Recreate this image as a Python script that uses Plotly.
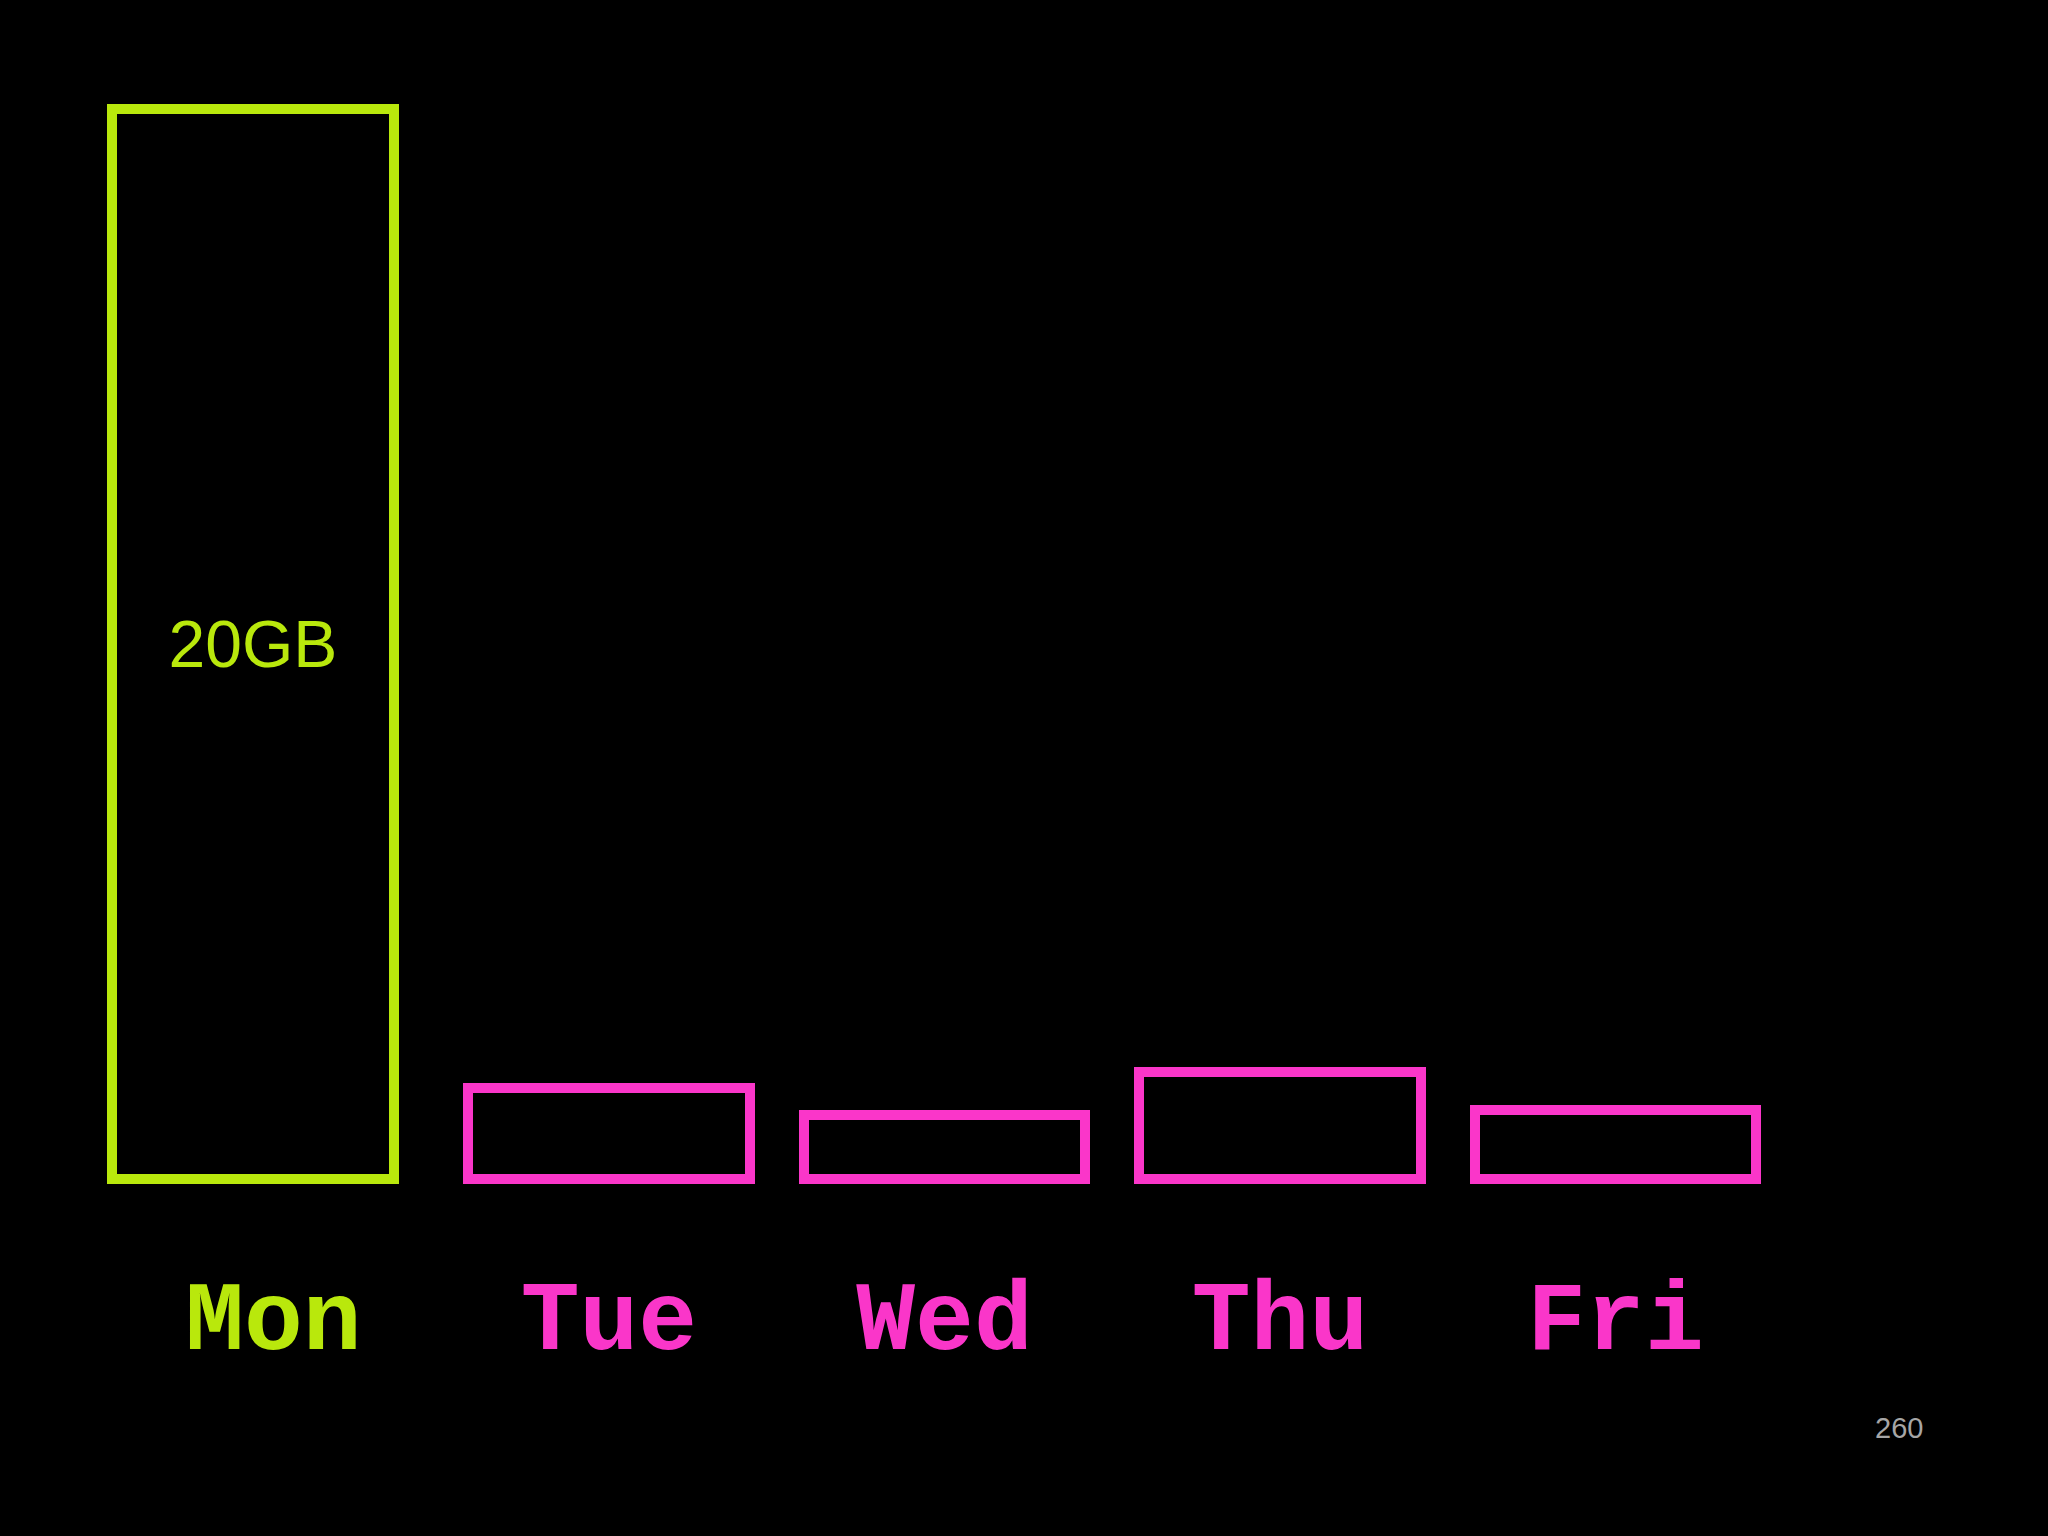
import plotly.graph_objects as go

days = ["Mon", "Tue", "Wed", "Thu", "Fri"]
usage_gb = [20, 1.7, 1.2, 2.0, 1.3]
bar_text = ["20GB", "", "", "", ""]
page_number = "260"

GREEN = "#b9e80c"
PINK = "#fa36c9"
colors = [GREEN, PINK, PINK, PINK, PINK]

bar_w = 0.84
offsets = [-bar_w / 2 - 0.06] + [-bar_w / 2] * 4

fig = go.Figure()
fig.add_trace(go.Bar(
    x=days, y=usage_gb,
    width=bar_w, offset=offsets,
    marker=dict(color="rgba(0,0,0,0)", line=dict(color=colors, width=10)),
    text=bar_text, textposition="inside", insidetextanchor="middle",
    textangle=0, constraintext="none",
    textfont=dict(family="Liberation Sans, Arial", size=66, color=GREEN),
    hoverinfo="skip",
))

ticktext = [f'<span style="color:{c}">{d}</span>' for d, c in zip(days, colors)]

fig.update_layout(
    width=2048, height=1536,
    margin=dict(l=0, r=0, t=0, b=286, pad=0),
    paper_bgcolor="black", plot_bgcolor="black",
    showlegend=False,
    bargap=0,
    xaxis=dict(
        range=[-0.815, 5.289],
        tickmode="array", tickvals=days, ticktext=ticktext,
        tickfont=dict(family="Liberation Mono, Courier New, monospace", size=98, weight="bold"),
        showgrid=False, zeroline=False, showline=False, ticks="",
    ),
    yaxis=dict(range=[-1.32, 22.04], visible=False, showgrid=False, zeroline=False),
    annotations=[dict(
        text=page_number, xref="paper", yref="paper",
        x=1899 / 2048, y=(1250 - 1428) / 1250,
        xanchor="center", yanchor="middle", showarrow=False,
        font=dict(family="Liberation Sans, Arial", size=29, color="#a6a6a6"),
    )],
)

fig.write_html(
    "out.html",
    config={"displayModeBar": False},
    post_script="document.body.style.margin='0';document.body.style.background='black';",
)
